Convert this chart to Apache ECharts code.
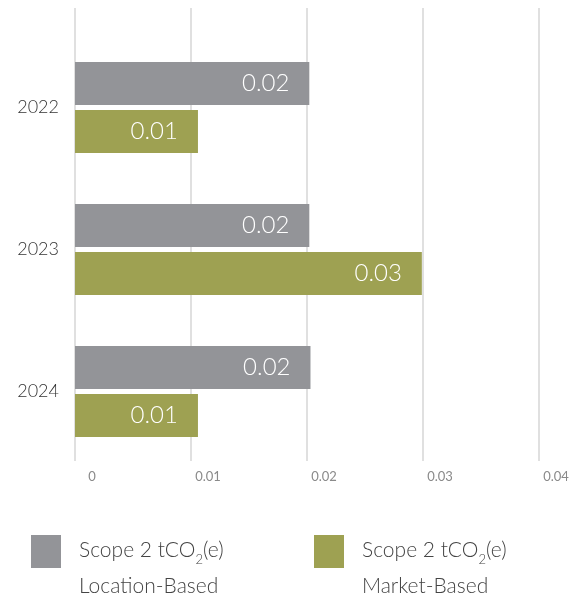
<!DOCTYPE html>
<html><head><meta charset="utf-8">
<script src="https://cdn.jsdelivr.net/npm/echarts@6/dist/echarts.min.js"></script>
<style>html,body{margin:0;padding:0;background:#fff}#c{width:580px;height:598px}</style>
</head><body><div id="c"></div>
<script>
const categories = ['2022', '2023', '2024'];
const locationBased = [0.0202, 0.0202, 0.0203];
const marketBased = [0.0106, 0.0299, 0.0106];
const xTicks = [0, 0.01, 0.02, 0.03, 0.04];
const seriesNames = ['Location-Based', 'Market-Based'];

const FONT = 'Lato';
const chart = echarts.init(document.getElementById('c'));
const legendRich = {
  a: { fontFamily: FONT, fontWeight: 300, fontSize: 21, color: '#444', lineHeight: 36 },
  s: { fontFamily: FONT, fontWeight: 300, fontSize: 13, color: '#444', padding: [18, 0, 0, 0], lineHeight: 36 }
};
function legendFmt(name) {
  return '{a|Scope 2 tCO}{s|2}{a|(e)}\n{a|' + name + '}';
}
const barLabel = {
  show: true, position: 'insideRight', distance: 20, color: '#fff',
  fontFamily: FONT, fontWeight: 300, fontSize: 24,
  formatter: p => p.value.toFixed(2)
};
chart.setOption({
  animation: false,
  grid: [
    { left: 75, right: 41, top: 8, bottom: 137 },
    { left: 75, right: 41, top: 36.5, height: 426 }
  ],
  xAxis: [
    { gridIndex: 0, type: 'value', min: xTicks[0], max: xTicks[xTicks.length - 1], interval: 0.01,
      axisLine: { show: false }, axisTick: { show: false },
      splitLine: { show: true, lineStyle: { color: '#d6d6d6', width: 1.5 } },
      axisLabel: { color: '#8a8a8a', fontFamily: FONT, fontSize: 13, margin: 9, padding: [0, 0, 0, 34] } },
    { gridIndex: 1, type: 'value', min: xTicks[0], max: xTicks[xTicks.length - 1], interval: 0.01, show: false,
      splitLine: { show: false } }
  ],
  yAxis: [
    { gridIndex: 0, type: 'category', data: categories, show: false },
    { gridIndex: 1, type: 'category', data: categories, inverse: true,
      axisLine: { show: false }, axisTick: { show: false }, splitLine: { show: false },
      axisLabel: { color: '#333', fontFamily: FONT, fontWeight: 300, fontSize: 18, margin: 16 } }
  ],
  legend: [
    { left: 31, top: 535, padding: 0, itemWidth: 30, itemHeight: 33, icon: 'rect', itemGap: 0,
      data: [seriesNames[0]], formatter: legendFmt,
      textStyle: { rich: legendRich, padding: [34, 0, 0, 13] } },
    { left: 314, top: 535, padding: 0, itemWidth: 30, itemHeight: 33, icon: 'rect', itemGap: 0,
      data: [seriesNames[1]], formatter: legendFmt,
      textStyle: { rich: legendRich, padding: [34, 0, 0, 13] } }
  ],
  series: [
    { name: seriesNames[0], type: 'bar', xAxisIndex: 1, yAxisIndex: 1, data: locationBased,
      barWidth: 43, barGap: '12%', itemStyle: { color: '#939498' }, label: barLabel },
    { name: seriesNames[1], type: 'bar', xAxisIndex: 1, yAxisIndex: 1, data: marketBased,
      barWidth: 43, barGap: '12%', itemStyle: { color: '#9ea152' }, label: barLabel }
  ]
});
</script></body></html>
